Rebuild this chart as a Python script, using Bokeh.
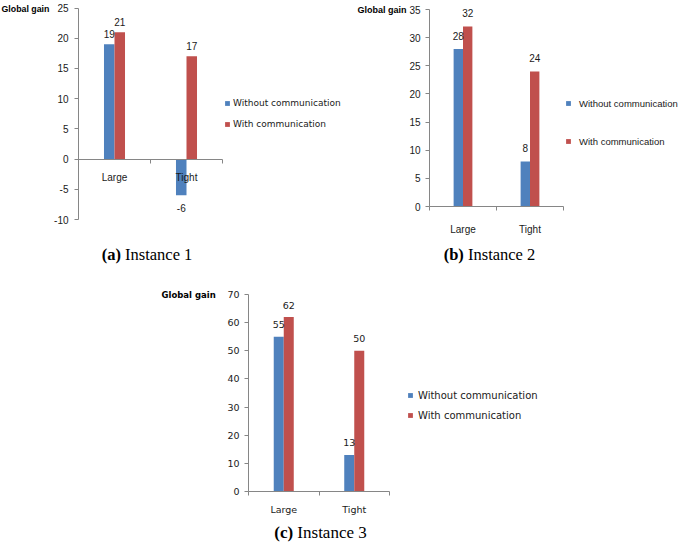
from bokeh.plotting import figure
from bokeh.models import (ColumnDataSource, Range1d, FixedTicker, Label, LabelSet,
                          Legend, LegendItem)
from bokeh.layouts import column, row
from bokeh.transform import dodge
from bokeh.core.properties import value
from bokeh.embed import file_html
from bokeh.resources import INLINE

# ---------------- data ----------------
categories = ["Large", "Tight"]
series_names = ["Without communication", "With communication"]
y_title = "Global gain"

inst1_without = [19, -6]
inst1_with = [21, 17]
inst2_without = [28, 8]
inst2_with = [32, 24]
inst3_without = [55, 13]
inst3_with = [62, 50]

y_limits = [(-10, 25, 5), (0, 35, 5), (0, 70, 10)]
caption_tags = ["(a)", "(b)", "(c)"]
caption_texts = ["Instance 1", "Instance 2", "Instance 3"]

BLUE = "#4F81BD"
RED = "#C0504D"
AXIS_GRAY = "#868686"
TEXT = "#1a1a1a"


def make_chart(without, with_, lim, tag, cap, st):
    y0, y1, step = lim
    W, H = st["w"], st["h"]
    # the plot frame fills the whole canvas; pixel layout -> data ranges
    x0px, cw = st["x0"], st["cw"]
    ytop_px, ybot_px = st["ypx"]
    ppu = (ybot_px - ytop_px) / (y1 - y0)
    x_start = -x0px / cw
    x_end = (W - x0px) / cw
    y_end = y1 + ytop_px / ppu
    y_start = y_end - H / ppu

    p = figure(width=W, height=H,
               x_range=Range1d(x_start, x_end), y_range=Range1d(y_start, y_end),
               output_backend="svg", toolbar_location=None,
               min_border=0, min_border_left=0, min_border_right=0,
               min_border_top=0, min_border_bottom=0)
    p.outline_line_color = None
    p.xgrid.visible = False
    p.ygrid.visible = False
    p.background_fill_color = "white"
    p.border_fill_color = "white"

    n = len(categories)
    xc = [i + 0.5 for i in range(n)]
    bw = st["bw"]
    src = ColumnDataSource(dict(
        xc=xc, without=without, with_=with_,
        wo_txt=[str(v) for v in without], wi_txt=[str(v) for v in with_],
        wo_off=[st["off"] if v >= 0 else -st["offn"] for v in without],
        wi_off=[st["off"] if v >= 0 else -st["offn"] for v in with_],
    ))
    r1 = p.vbar(x=dodge("xc", -bw / 2, range=p.x_range), top="without", bottom=0,
                width=bw, source=src, fill_color=BLUE, line_color=None)
    r2 = p.vbar(x=dodge("xc", bw / 2, range=p.x_range), top="with_", bottom=0,
                width=bw, source=src, fill_color=RED, line_color=None)

    for sgn, col, txt, off in ((-1, "without", "wo_txt", "wo_off"),
                               (1, "with_", "wi_txt", "wi_off")):
        ls = LabelSet(x=dodge("xc", sgn * bw / 2, range=p.x_range), y=col,
                      text=txt, y_offset=off, source=src, text_align="center",
                      text_baseline="middle", text_font=value(st["font"]),
                      text_font_size=value(st["fs"]), text_color=TEXT)
        p.add_layout(ls)

    # y axis (drawn at x = 0, limited to the value range)
    ya = p.yaxis[0]
    yt = list(range(y0, y1 + 1, step))
    ya.ticker = FixedTicker(ticks=yt)
    ya.major_label_overrides = {t: str(t) for t in yt}
    ya.fixed_location = 0
    ya.bounds = (y0, y1)
    ya.axis_line_color = AXIS_GRAY
    ya.major_tick_line_color = AXIS_GRAY
    ya.major_tick_out = 4
    ya.major_tick_in = 0
    ya.minor_tick_out = 0
    ya.minor_tick_in = 0
    ya.major_label_standoff = st["ystand"]
    ya.major_label_text_font = st["font"]
    ya.major_label_text_font_size = st["fs"]
    ya.major_label_text_color = TEXT

    # x axis (drawn at y = 0)
    xa = p.xaxis[0]
    xa.ticker = FixedTicker(ticks=xc, minor_ticks=list(range(n + 1)))
    xa.major_label_overrides = {x: c for x, c in zip(xc, categories)}
    xa.fixed_location = 0
    xa.bounds = (0, n)
    xa.axis_line_color = AXIS_GRAY
    xa.major_tick_out = 0
    xa.major_tick_in = 0
    xa.minor_tick_line_color = AXIS_GRAY
    xa.minor_tick_out = 4
    xa.minor_tick_in = 0
    xa.major_label_standoff = st["xstand"]
    xa.major_label_text_font = st["font"]
    xa.major_label_text_font_size = st["fs"]
    xa.major_label_text_color = TEXT

    lx, ly_first, ly_second = st["leg"]
    lh = 12
    legend = Legend(items=[LegendItem(label=series_names[0], renderers=[r1]),
                           LegendItem(label=series_names[1], renderers=[r2])],
                    location=(lx, H - (ly_second + lh / 2)), orientation="vertical",
                    glyph_width=6, glyph_height=6, label_height=lh,
                    spacing=int(round(ly_second - ly_first - lh)), padding=0, margin=0,
                    border_line_color=None, background_fill_alpha=0,
                    label_standoff=st["lstand"], label_text_font=st["lfont"],
                    label_text_font_size=st["lfs"], label_text_color=TEXT)
    p.add_layout(legend)

    gx, gy = st["g"]
    p.add_layout(Label(x=gx, y=H - gy, x_units="screen", y_units="screen",
                       text=y_title, text_font=st["gfont"], text_font_style="bold",
                       text_font_size=st["gfs"], text_baseline="middle",
                       text_align="left", text_color="black"))

    cx, cy, cfs, wb = st["cap"]
    f = float(cfs.replace("px", ""))
    w_bold = wb * f
    w_rest = 4.082 * f
    w_sp = 0.25 * f
    left = cx - (w_bold + w_sp + w_rest) / 2
    p.add_layout(Label(x=left, y=H - cy, x_units="screen", y_units="screen",
                       text=tag, text_font="Liberation Serif", text_font_style="bold",
                       text_font_size=cfs, text_align="left",
                       text_baseline="middle", text_color="black"))
    p.add_layout(Label(x=left + w_bold + w_sp, y=H - cy, x_units="screen", y_units="screen",
                       text=cap, text_font="Liberation Serif",
                       text_font_size=cfs, text_align="left",
                       text_baseline="middle", text_color="black"))
    return p


style_a = dict(w=345, h=270, x0=78, cw=72, ypx=(7.5, 219), bw=0.146,
               font="Liberation Sans", fs="10px", off=10, offn=13, ystand=6, xstand=9,
               leg=(224, 103, 124), lstand=3, lfont="DejaVu Sans", lfs="9px",
               g=(1, 8), gfont="Liberation Sans", gfs="8.8px",
               cap=(146.5, 254, "16.5px", 1.166))
style_b = dict(w=340, h=270, x0=84, cw=67, ypx=(9, 206), bw=0.14,
               font="Liberation Sans", fs="10px", off=13, offn=13, ystand=5, xstand=13,
               leg=(220, 103, 141), lstand=8, lfont="Liberation Sans", lfs="9.5px",
               g=(12, 9), gfont="Liberation Sans", gfs="9px",
               cap=(144, 254, "16.5px", 1.222))
style_c = dict(w=685, h=272, x0=248, cw=70.5, ypx=(24, 221), bw=0.142,
               font="DejaVu Sans", fs="9.5px", off=12, offn=12, ystand=5, xstand=8,
               leg=(407, 124.5, 145), lstand=5, lfont="DejaVu Sans", lfs="10px",
               g=(161, 24), gfont="DejaVu Sans", gfs="8.5px",
               cap=(320, 262, "17px", 1.11))

pa = make_chart(inst1_without, inst1_with, y_limits[0], caption_tags[0], caption_texts[0], style_a)
pb = make_chart(inst2_without, inst2_with, y_limits[1], caption_tags[1], caption_texts[1], style_b)
pc = make_chart(inst3_without, inst3_with, y_limits[2], caption_tags[2], caption_texts[2], style_c)

layout = column(row(pa, pb, spacing=0), pc, spacing=0)

open("out.html", "w").write(file_html(layout, INLINE))
